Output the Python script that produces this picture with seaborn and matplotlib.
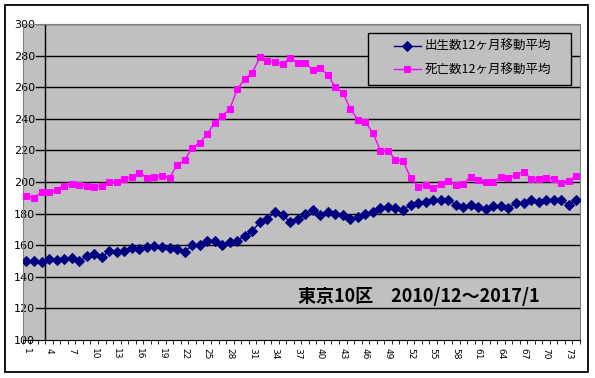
import numpy as np
import pandas as pd
import matplotlib
matplotlib.use('Agg')
import matplotlib.pyplot as plt
import seaborn as sns

# 12-month moving averages, Tokyo ward 10, 2010/12 - 2017/1
births = [150, 150, 149.3, 151, 150.5, 151, 151.7, 149.8, 153, 154.3,
          152.5, 156.3, 155.7, 156.3, 158.2, 157.6, 158.9, 159.5, 158.9, 158.2,
          157.6, 155.7, 160.1, 160.1, 162.9, 162.9, 160.1, 162, 162.9, 165.8,
          169, 174.7, 176.6, 181, 179.1, 174.7, 176.6, 180, 182.5, 179.4,
          181.2, 180, 179.4, 176.6, 177.8, 180, 181.2, 183.5, 184.4, 183.5,
          182.3, 185.7, 186.4, 187.4, 188.3, 188.3, 188.9, 185.7, 184.4, 185.7,
          184.4, 183.1, 185, 185, 183.8, 186.4, 186.4, 188.9, 187.4, 188.9,
          188.9, 188.3, 185.7, 188.3]
deaths = [191.1, 190.1, 193.7, 193.7, 194.9, 197.7, 198.7, 198.3, 197.7, 197,
          197.7, 200, 200, 201.9, 203.2, 205.9, 202.7, 203.4, 204, 202.7,
          210.8, 213.9, 221.7, 224.7, 230.4, 237.5, 241.8, 246.2, 258.9, 265.2,
          269.2, 279.1, 276.6, 275.9, 274.9, 278.5, 275.5, 275.5, 271.1, 272.2,
          267.9, 260.1, 256.5, 246.4, 239.4, 238, 231, 219.8, 219.8, 214.1,
          213.5, 202.7, 197, 198.3, 196.4, 198.5, 200.8, 198.3, 198.9, 203.4,
          201.3, 200, 200, 203.4, 202.7, 204.6, 206.5, 202.1, 202.1, 202.7,
          202.1, 199.6, 200.8, 204]
month_no = list(range(1, len(births) + 1))
yticks = list(range(100, 301, 20))
label_births = '出生数12ヶ月移動平均'
label_deaths = '死亡数12ヶ月移動平均'
title = '東京10区\u30002010/12～2017/1'

df = pd.DataFrame({'pos': np.arange(len(births)), 'births': births, 'deaths': deaths})

plt.rcParams['font.family'] = ['Noto Sans CJK JP', 'DejaVu Sans']

fig = plt.figure(figsize=(5.95, 3.78), dpi=100)
ax = fig.add_axes([22.7 / 595, 1 - 340 / 378, 557.3 / 595, 316 / 378])
ax.set_facecolor('#C0C0C0')

# outer chart border
fig.patches.append(plt.Rectangle((5 / 595, 6 / 378), 583 / 595, 367 / 378,
                                 transform=fig.transFigure, fill=False,
                                 edgecolor='black', linewidth=1.3))

sns.lineplot(data=df, x='pos', y='births', ax=ax, color='#000080', linewidth=1,
             marker='D', markersize=5.2, markeredgecolor='#000080',
             label=label_births, zorder=4)
sns.lineplot(data=df, x='pos', y='deaths', ax=ax, color='#FF00FF', linewidth=1,
             marker='s', markersize=4.6, markeredgecolor='#FF00FF',
             label=label_deaths, zorder=4)

ax.set_xlim(-0.5, len(births) - 0.5)
ax.set_ylim(100, 300)

for y in yticks[1:]:
    ax.axhline(y, xmin=0.024, color='black', linewidth=1, zorder=2)
ax.axvline(2.5, color='black', linewidth=1, zorder=2)

ax.set_yticks(yticks)
ax.set_yticklabels([str(v) for v in yticks], fontsize=8, family='DejaVu Sans')
ax.tick_params(axis='y', length=0, pad=-8.9)

ax.set_xticks(np.arange(0, len(births), 3))
ax.set_xticklabels([str(m) for m in month_no[::3]], rotation=270,
                   fontsize=6.5, family='DejaVu Sans')
ax.set_xticks(np.arange(-0.5, len(births), 1), minor=True)
ax.tick_params(axis='x', which='major', length=0, pad=6)
ax.tick_params(axis='x', which='minor', length=3, color='black')

for s in ['left', 'right', 'top']:
    ax.spines[s].set_color('#808080')
ax.spines['bottom'].set_color('black')
ax.set_xlabel('')
ax.set_ylabel('')

ax.text(0.494, 0.137, title, transform=ax.transAxes, fontsize=13,
        fontweight='bold', ha='left', va='center')

# legend box drawn separately to get Excel-like wide side padding
ax.add_patch(plt.Rectangle((0.6196, 0.807), 0.3643, 0.1646, transform=ax.transAxes,
                           facecolor='#C0C0C0', edgecolor='black', linewidth=1,
                           zorder=5))
leg = ax.legend(loc='center left', bbox_to_anchor=(0.666, 0.891), borderaxespad=0,
                borderpad=0, fontsize=9, frameon=False, handlelength=2.16,
                handletextpad=0.32, labelspacing=0.85)
leg.set_zorder(6)

fig.savefig('out.png', dpi=100)
